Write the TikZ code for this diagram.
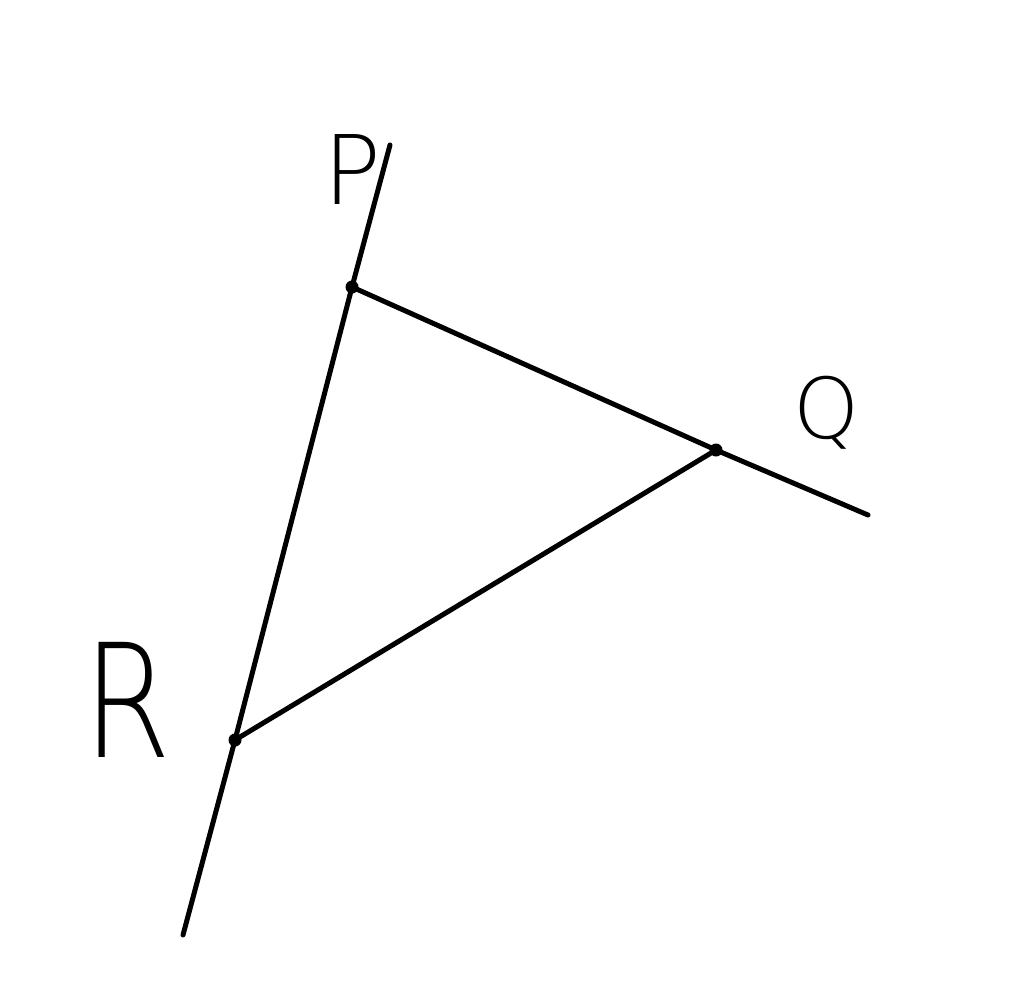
\documentclass[tikz,border=0pt]{standalone}
\usepackage{fontspec}
\newfontfamily\labfont{DejaVu Sans ExtraLight}
\begin{document}
\begin{tikzpicture}[x=1pt,y=1pt,
  ln/.style={line width=5pt,line cap=round},
  pt/.style={circle,fill=black,inner sep=0pt,minimum size=13pt},
  lab/.style={inner sep=0pt,font=\labfont}]
\useasboundingbox (0,0) rectangle (1024,-991);
\fill[white] (0,0) rectangle (1024,-991);
\coordinate (Ptop) at (390,-145);
\coordinate (Rbot) at (183,-935);
\coordinate (Qend) at (868,-515);
\node[pt] (P) at (352,-287) {};
\node[pt] (Q) at (716,-450) {};
\node[pt] (R) at (235,-740) {};
\draw[ln] (Ptop) -- (P.center) -- (R.center) -- (Rbot);
\draw[ln] (P.center) -- (Q.center) -- (Qend);
\draw[ln] (R.center) -- (Q.center);
\node[lab,font=\labfont\fontsize{96}{96}\selectfont] (Plab) at (352,-170) {P};
\node[lab,font=\labfont\fontsize{84}{84}\selectfont] (Qlab) at (827,-413) {Q};
\node[lab,font=\labfont\fontsize{158}{158}\selectfont,xscale=0.8] (Rlab) at (127,-700) {R};
\end{tikzpicture}
\end{document}
